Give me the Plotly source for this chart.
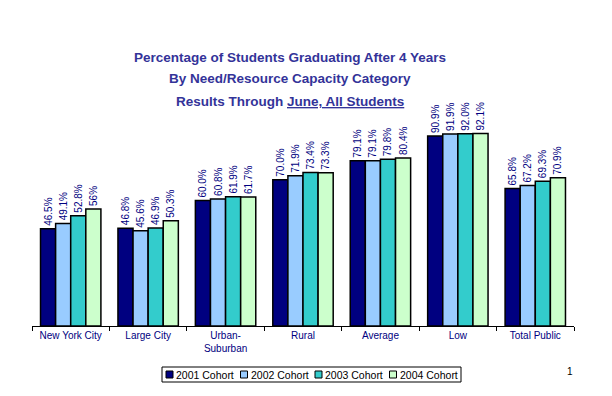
import plotly.graph_objects as go

categories = ["New York City", "Large City", "Urban-<br>Suburban", "Rural", "Average", "Low", "Total Public"]
series_names = ["2001 Cohort", "2002 Cohort", "2003 Cohort", "2004 Cohort"]
v2001 = [46.5, 46.8, 60.0, 70.0, 79.1, 90.9, 65.8]
v2002 = [49.1, 45.6, 60.8, 71.9, 79.1, 91.9, 67.2]
v2003 = [52.8, 46.9, 61.9, 73.4, 79.8, 92.0, 69.3]
v2004 = [56.0, 50.3, 61.7, 73.3, 80.4, 92.1, 70.9]
labels2001 = ["46.5%", "46.8%", "60.0%", "70.0%", "79.1%", "90.9%", "65.8%"]
labels2002 = ["49.1%", "45.6%", "60.8%", "71.9%", "79.1%", "91.9%", "67.2%"]
labels2003 = ["52.8%", "46.9%", "61.9%", "73.4%", "79.8%", "92.0%", "69.3%"]
labels2004 = ["56%", "50.3%", "61.7%", "73.3%", "80.4%", "92.1%", "70.9%"]

colors = ["#000080", "#99CCFF", "#33CCCC", "#CCFFCC"]
values = [v2001, v2002, v2003, v2004]
labels = [labels2001, labels2002, labels2003, labels2004]

FONT = "Liberation Sans, Arial"
W, H = 612, 396
L, R, T, B = 32, 38, 117, 70
PW, PH = W - L - R, H - T - B


def px(x):
    return (x - L) / PW


def py(y):
    return (H - B - y) / PH


fig = go.Figure()
for name, vals, labs, col in zip(series_names, values, labels, colors):
    fig.add_trace(go.Bar(
        x=categories, y=vals, name=name, text=labs,
        textposition="outside", textangle=-90, constraintext="none",
        textfont=dict(family=FONT, size=10, color="#000080"),
        marker=dict(color=col, line=dict(color="black", width=1.5)),
        cliponaxis=False, showlegend=False,
    ))

fig.update_layout(
    width=W, height=H,
    margin=dict(l=L, r=R, t=T, b=B, autoexpand=False),
    paper_bgcolor="white", plot_bgcolor="white",
    barmode="group", bargap=0.22, bargroupgap=0,
    showlegend=False,
    font=dict(family=FONT),
)
fig.update_xaxes(
    showline=True, linecolor="black", linewidth=1,
    ticks="outside", tickson="boundaries", ticklen=4, tickcolor="black",
    tickfont=dict(family=FONT, size=10, color="#000080"),
    showgrid=False, automargin=False,
)
fig.update_yaxes(range=[0, 100], visible=False, showgrid=False)

# Title
title_lines = [
    "Percentage of Students Graduating After 4 Years",
    "By Need/Resource Capacity Category",
    "Results Through <u>June, All Students</u>",
]
for i, line in enumerate(title_lines):
    fig.add_annotation(
        text="<b>" + line + "</b>", xref="paper", yref="paper",
        x=px(290), y=py(57 + 22 * i),
        xanchor="center", yanchor="middle", showarrow=False,
        font=dict(family=FONT, size=13.5, color="#333399"),
    )

# Legend (drawn as a boxed key below the axis)
fig.add_shape(type="rect", xref="paper", yref="paper",
              x0=px(162), x1=px(461), y0=py(367), y1=py(382),
              line=dict(color="black", width=1), fillcolor="white")
for i, (name, col) in enumerate(zip(series_names, colors)):
    sx = 166 + 74.5 * i
    fig.add_shape(type="rect", xref="paper", yref="paper",
                  x0=px(sx), x1=px(sx + 7), y0=py(371), y1=py(378),
                  line=dict(color="black", width=1), fillcolor=col)
    fig.add_annotation(
        text=name, xref="paper", yref="paper",
        x=px(sx + 8), y=py(374.5), xanchor="left", yanchor="middle",
        showarrow=False, font=dict(family=FONT, size=10.5, color="black"),
    )

fig.add_annotation(
    text="1", xref="paper", yref="paper",
    x=px(570), y=py(371),
    xanchor="center", yanchor="middle", showarrow=False,
    font=dict(family=FONT, size=10, color="black"),
)

fig.write_html("out.html", config={"displayModeBar": False},
               post_script="document.body.style.margin='0';")
